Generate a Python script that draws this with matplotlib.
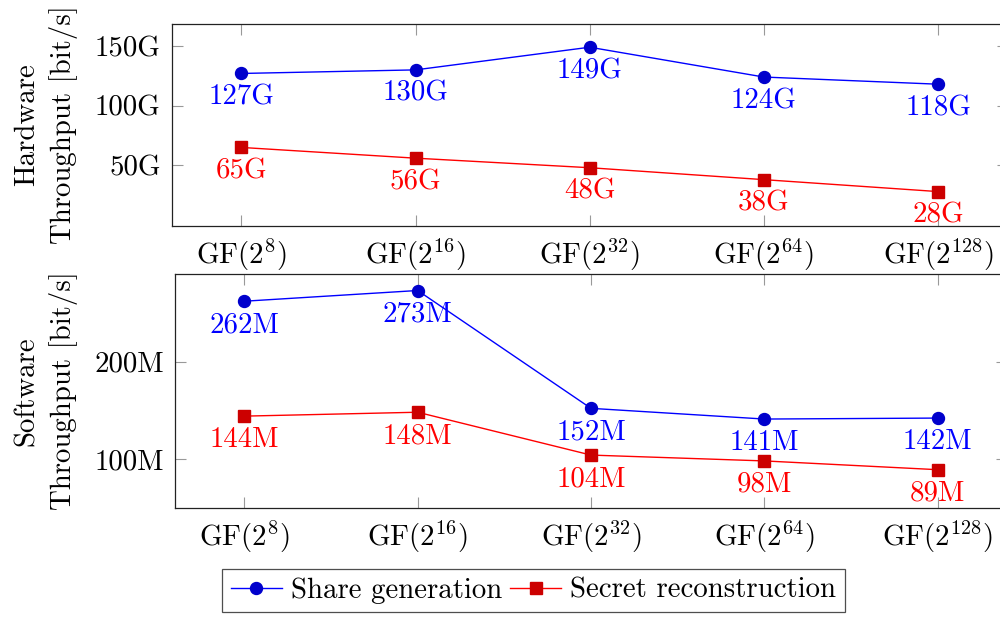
import matplotlib
matplotlib.use("Agg")
import matplotlib.pyplot as plt
from matplotlib.lines import Line2D

plt.rcParams['font.family'] = ['cmr10', 'DejaVu Serif']
plt.rcParams['mathtext.fontset'] = 'cm'
plt.rcParams['axes.unicode_minus'] = False
plt.rcParams['axes.formatter.use_mathtext'] = True

categories = ["GF($2^{8}$)", "GF($2^{16}$)", "GF($2^{32}$)", "GF($2^{64}$)", "GF($2^{128}$)"]
hw_share = [127, 130, 149, 124, 118]
hw_secret = [65, 56, 48, 38, 28]
sw_share = [262, 273, 152, 141, 142]
sw_secret = [144, 148, 104, 98, 89]
hw_ticks = [50, 100, 150]
hw_tick_labels = ["50G", "100G", "150G"]
sw_ticks = [100, 200]
sw_tick_labels = ["100M", "200M"]
series_names = ["Share generation", "Secret reconstruction"]

FS = 20.8
blue, blue_fill = (0, 0, 1), (0, 0, 0.8)
red, red_fill = (1, 0, 0), (0.8, 0, 0)

fig = plt.figure(figsize=(10, 6.17), dpi=100)
ax1 = fig.add_axes([0.1717, 0.6342, 0.836, 0.3264])
ax2 = fig.add_axes([0.175, 0.1772, 0.832, 0.3788])

x = list(range(len(categories)))

def style(ax, yticks, ylabels, ylim, ylabel):
    ax.set_xlim(-0.4, 4.4)
    ax.set_ylim(*ylim)
    ax.set_xticks(x)
    ax.set_xticklabels(categories, fontsize=FS)
    ax.set_yticks(yticks)
    ax.set_yticklabels(ylabels, fontsize=FS)
    ax.tick_params(axis='both', direction='in', length=8, width=0.8,
                   color='#999999', top=True, right=True, pad=8)
    for s in ax.spines.values():
        s.set_linewidth(0.9)
        s.set_color('#222222')
    ax.set_ylabel(ylabel, fontsize=FS, multialignment='center', labelpad=12,
                  linespacing=1.4)

def draw(ax, share, secret, unit):
    ax.plot(x, share, color=blue, lw=1.0, marker='o', markersize=8.6,
            markerfacecolor=blue_fill, markeredgecolor=blue_fill)
    ax.plot(x, secret, color=red, lw=1.0, marker='s', markersize=8.2,
            markerfacecolor=red_fill, markeredgecolor=red_fill)
    for xi, v in zip(x, share):
        ax.annotate(f"{v}{unit}", (xi, v), xytext=(0, -22.3), textcoords='offset points',
                    ha='center', va='baseline', color=blue, fontsize=FS)
    for xi, v in zip(x, secret):
        ax.annotate(f"{v}{unit}", (xi, v), xytext=(0, -22.3), textcoords='offset points',
                    ha='center', va='baseline', color=red, fontsize=FS)

draw(ax1, hw_share, hw_secret, "G")
draw(ax2, sw_share, sw_secret, "M")
style(ax1, hw_ticks, hw_tick_labels, (-0.6, 168.2), "Hardware\nThroughput [bit/s]")
style(ax2, sw_ticks, sw_tick_labels, (50, 290), "Software\nThroughput [bit/s]")

handles = [
    Line2D([], [], color=blue, lw=1.0, marker='o', markersize=8.6,
           markerfacecolor=blue_fill, markeredgecolor=blue_fill),
    Line2D([], [], color=red, lw=1.0, marker='s', markersize=8.2,
           markerfacecolor=red_fill, markeredgecolor=red_fill),
]
leg = fig.legend(handles, series_names, loc='center', bbox_to_anchor=(0.5335, 1 - 590.5 / 617),
                 ncol=2, fontsize=FS, frameon=True, fancybox=False, edgecolor='#222222',
                 handlelength=1.76, handletextpad=0.3, columnspacing=0.3, borderpad=0.3,
                 borderaxespad=0)
leg.get_frame().set_linewidth(0.9)

fig.savefig("out.png", dpi=100)
